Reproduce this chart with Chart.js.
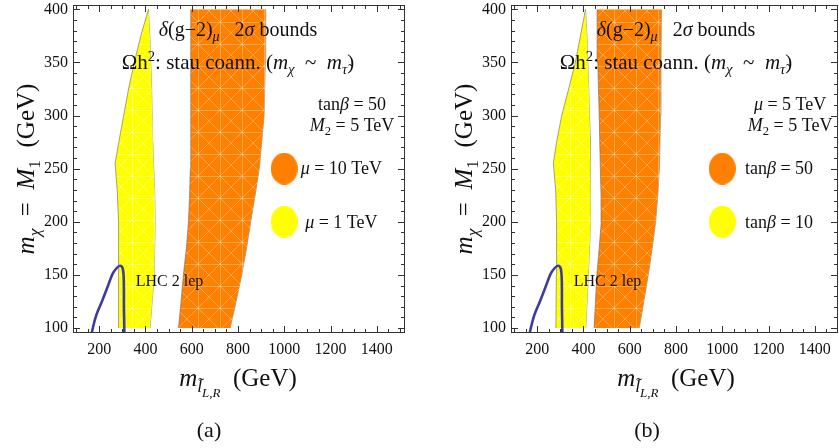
<!DOCTYPE html>
<html>
<head>
<meta charset="utf-8">
<script src="https://cdn.jsdelivr.net/npm/chart.js@4.4.1/dist/chart.umd.min.js"></script>
<style>
  html, body { margin: 0; padding: 0; background: #fff; overflow: hidden; }
  #wrap { position: relative; width: 839px; height: 448px; }
  canvas { position: absolute; top: 0; }
</style>
</head>
<body>
<div id="wrap">
  <canvas id="chart-a" width="420" height="448" style="left:0"></canvas>
  <canvas id="chart-b" width="401" height="448" style="left:438px"></canvas>
</div>
<script>
// tick labels
const xTicks = [200, 400, 600, 800, 1000, 1200, 1400];
const yTicks = [100, 150, 200, 250, 300, 350, 400];

// LHC 2 lepton contour, same in both panels
const lhcX = [166, 186, 212, 237, 258, 276, 288, 297, 303, 306, 307, 307, 308, 309];
const lhcY = [94, 111, 125, 139, 151, 156.5, 158.5, 158, 155, 148, 136, 122, 108, 94];

// y samples of the band edges
const yellowY = [100, 150, 200, 230, 255, 275, 300, 325, 350, 375, 400];
const orangeY = [100, 125, 150, 175, 200, 225, 250, 300, 350, 400];

// panel (a): tanβ = 50, mu = 1 / 10 TeV
const yellowA_left  = [285, 285, 283, 278, 269, 285, 306, 327, 352, 380, 413];
const yellowA_right = [420, 438, 442, 440, 435, 432, 429, 427, 423, 419, 413];
const orangeA_left  = [543, 554, 564, 577, 586, 591, 594, 596, 596, 596];
const orangeA_right = [766, 792, 816, 837, 855, 874, 892, 913, 918, 920];

// panel (b): mu = 5 TeV, tanβ = 10 / 50
const yellowB_left  = [281, 283, 284, 280, 270, 284, 306, 336, 365, 387, 409];
const yellowB_right = [410, 421, 431, 432, 431, 429, 426, 423, 419, 415, 409];
const orangeB_left  = [446, 452, 458, 468, 477, 476, 473, 468, 462, 459];
const orangeB_right = [641, 661, 680, 697, 712, 721, 728, 733, 735, 737];

// legend ellipse positions (data units)
const legendX = [1000, 1000];
const legendY = [250, 200];

const ORANGE = '#ff8000', YELLOW = '#ffff00', BLUE = '#3c3c9c';
const FONT = '"Liberation Serif", serif';
Chart.defaults.font.family = FONT;
Chart.defaults.color = '#111';

const pts = (xs, ys) => ys.map((y, i) => ({x: xs[i], y}));

function hatch(color, alpha){
  const c = document.createElement('canvas'); c.width = 22; c.height = 22;
  const g = c.getContext('2d');
  g.fillStyle = color; g.fillRect(0, 0, 22, 22);
  g.strokeStyle = 'rgba(255,255,255,' + alpha + ')'; g.lineWidth = 1;
  g.beginPath();
  g.moveTo(0.5, 0); g.lineTo(0.5, 22);
  g.moveTo(0, 0.5); g.lineTo(22, 0.5);
  g.moveTo(0, 0); g.lineTo(22, 22);
  g.moveTo(22, 0); g.lineTo(0, 22);
  g.stroke();
  return g.createPattern(c, 'repeat');
}

function ellipse(color){
  const c = document.createElement('canvas'); c.width = 27; c.height = 32;
  const g = c.getContext('2d');
  g.fillStyle = color;
  g.beginPath(); g.ellipse(13.5, 16, 13.5, 16, 0, 0, Math.PI*2); g.fill();
  return c;
}

// text made of runs: [text, flags]; flags: i = italic, sub, sup, ss = second-level sub
function drawRich(ctx, parts, x, y, size, align){
  const segs = parts.map(([t, f = '']) => {
    const fl = f.split(' ');
    let s = size, dy = 0;
    if (fl.includes('sub')) { s = size*0.7; dy = size*0.25; }
    if (fl.includes('sup')) { s = size*0.7; dy = -size*0.4; }
    if (fl.includes('ss')) { s = size*0.52; dy = size*0.45; }
    const font = (fl.includes('i') ? 'italic ' : '') + s.toFixed(1) + 'px ' + FONT;
    ctx.font = font;
    return {t, font, dy, w: ctx.measureText(t).width};
  });
  const total = segs.reduce((a, s) => a + s.w, 0);
  let cx = align === 'center' ? x - total/2 : align === 'right' ? x - total : x;
  ctx.textAlign = 'left'; ctx.textBaseline = 'alphabetic';
  segs.forEach(s => { ctx.font = s.font; ctx.fillText(s.t, cx, y + s.dy); cx += s.w; });
}

const titleLine1 = [['δ','i'],['(g−2)'],['μ','i sub'],['   2'],['σ','i'],[' bounds']];
const titleLine2 = [['Ωh'],['2','sup'],[': stau coann. ('],['m','i'],['χ','i sub'],['  ~  '],['m','i'],['τ̃','i sub'],[')']];
const yTitle = [['m','i'],['χ','i sub'],['  =  '],['M','i'],['1','sub'],['  (GeV)']];
const xTitle = [['m','i'],['l̃','i sub'],['L,R','i ss'],['  (GeV)']];

const notesA = [
  {p: titleLine1, x: 800, y: 381, s: 20, a: 'center'},
  {p: titleLine2, x: 800, y: 350, s: 21, a: 'center'},
  {p: [['tan'],['β','i'],[' = 50']], x: 1293, y: 311, s: 18, a: 'center'},
  {p: [['M','i'],['2','sub'],[' = 5 TeV']], x: 1293, y: 291, s: 18, a: 'center'},
  {p: [['μ','i'],[' = 10 TeV']], x: 1247, y: 250, s: 18, a: 'center'},
  {p: [['μ','i'],[' = 1 TeV']], x: 1247, y: 200, s: 18, a: 'center'},
  {p: [['LHC 2 lep']], x: 358, y: 144, s: 16, a: 'left'}
];
const notesB = [
  {p: titleLine1, x: 800, y: 381, s: 20, a: 'center'},
  {p: titleLine2, x: 800, y: 350, s: 21, a: 'center'},
  {p: [['μ','i'],[' = 5 TeV']], x: 1293, y: 311, s: 18, a: 'center'},
  {p: [['M','i'],['2','sub'],[' = 5 TeV']], x: 1293, y: 291, s: 18, a: 'center'},
  {p: [['tan'],['β','i'],[' = 50']], x: 1245, y: 250, s: 18, a: 'center'},
  {p: [['tan'],['β','i'],[' = 10']], x: 1245, y: 200, s: 18, a: 'center'},
  {p: [['LHC 2 lep']], x: 358, y: 144, s: 16, a: 'left'}
];

const framePlugin = {
  id: 'frame',
  afterDatasetsDraw(chart){
    const {ctx, chartArea: a, scales: {x, y}} = chart;
    ctx.save();
    ctx.strokeStyle = '#333'; ctx.lineWidth = 1;
    ctx.strokeRect(a.left + 0.5, a.top + 0.5, a.right - a.left - 1, a.bottom - a.top - 1);
    ctx.beginPath();
    for (let v = 100; v <= 400; v += 10){
      const p = Math.round(y.getPixelForValue(v)) + 0.5, len = v % 50 === 0 ? 7 : 4;
      ctx.moveTo(a.left, p); ctx.lineTo(a.left + len, p);
      ctx.moveTo(a.right, p); ctx.lineTo(a.right - len, p);
    }
    for (let v = 100; v < x.max; v += 50){
      const p = Math.round(x.getPixelForValue(v)) + 0.5, len = v % 200 === 0 ? 7 : 4;
      ctx.moveTo(p, a.bottom); ctx.lineTo(p, a.bottom - len);
      ctx.moveTo(p, a.top); ctx.lineTo(p, a.top + len);
    }
    ctx.stroke();
    ctx.restore();
  }
};

const textPlugin = {
  id: 'texts',
  afterDraw(chart, args, opts){
    const {ctx, chartArea: a, scales: {x, y}} = chart;
    ctx.save();
    ctx.fillStyle = '#111';
    opts.notes.forEach(n => {
      drawRich(ctx, n.p, x.getPixelForValue(n.x), y.getPixelForValue(n.y) + n.s*0.32, n.s, n.a);
    });
    drawRich(ctx, xTitle, 238, 386, 25, 'center');
    ctx.save();
    ctx.translate(34, (a.top + a.bottom)/2);
    ctx.rotate(-Math.PI/2);
    drawRich(ctx, yTitle, 0, 0, 25, 'center');
    ctx.restore();
    drawRich(ctx, [[opts.tag]], 209, 437, 22, 'center');
    ctx.restore();
  }
};

function makePanel(id, o){
  const edge = {borderColor: 'rgba(110,110,110,0.8)', borderWidth: 0.8, pointRadius: 0};
  return new Chart(document.getElementById(id), {
    type: 'line',
    data: { datasets: [
      { data: pts(lhcX, lhcY), borderColor: BLUE, borderWidth: 2.6, pointRadius: 0, fill: false, tension: 0.3 },
      { ...edge, data: pts(o.yellowL, yellowY), backgroundColor: hatch(YELLOW, 0.35), fill: 2 },
      { ...edge, data: pts(o.yellowR, yellowY), fill: false },
      { ...edge, data: pts(o.orangeL, orangeY), backgroundColor: hatch(ORANGE, 0.3), fill: 4 },
      { ...edge, data: pts(o.orangeR, orangeY), fill: false },
      { data: pts(legendX, legendY), showLine: false, pointRadius: 14,
        pointStyle: [ellipse(ORANGE), ellipse(YELLOW)] }
    ]},
    options: {
      indexAxis: 'y',
      responsive: false, animation: false,
      layout: { autoPadding: false, padding: { left: 0, right: o.padRight, top: 5, bottom: 0 } },
      plugins: { legend: { display: false }, tooltip: { enabled: false }, texts: { notes: o.notes, tag: o.tag } },
      scales: {
        x: {
          type: 'linear', min: 87, max: o.xMax,
          grid: { display: false, drawTicks: false }, border: { display: false },
          afterBuildTicks: s => { s.ticks = xTicks.map(value => ({value})); },
          afterFit: s => { s.height = 115; s.paddingLeft = 0; s.paddingRight = 0; },
          ticks: { padding: 7, color: '#111', maxRotation: 0, font: { family: FONT, size: 16 }, callback: v => String(v) }
        },
        y: {
          type: 'linear', min: 95.3, max: 404.1,
          grid: { display: false, drawTicks: false }, border: { display: false },
          afterBuildTicks: s => { s.ticks = yTicks.map(value => ({value})); },
          afterFit: s => { s.width = 73; s.paddingTop = 0; s.paddingBottom = 0; },
          ticks: { padding: 5, color: '#111', font: { family: FONT, size: 16 }, callback: v => String(v) }
        }
      }
    },
    plugins: [framePlugin, textPlugin]
  });
}

makePanel('chart-a', { yellowL: yellowA_left, yellowR: yellowA_right, orangeL: orangeA_left, orangeR: orangeA_right,
  xMax: 1522, padRight: 15, notes: notesA, tag: '(a)' });
makePanel('chart-b', { yellowL: yellowB_left, yellowR: yellowB_right, orangeL: orangeB_left, orangeR: orangeB_right,
  xMax: 1500, padRight: 1, notes: notesB, tag: '(b)' });
</script>
</body>
</html>
